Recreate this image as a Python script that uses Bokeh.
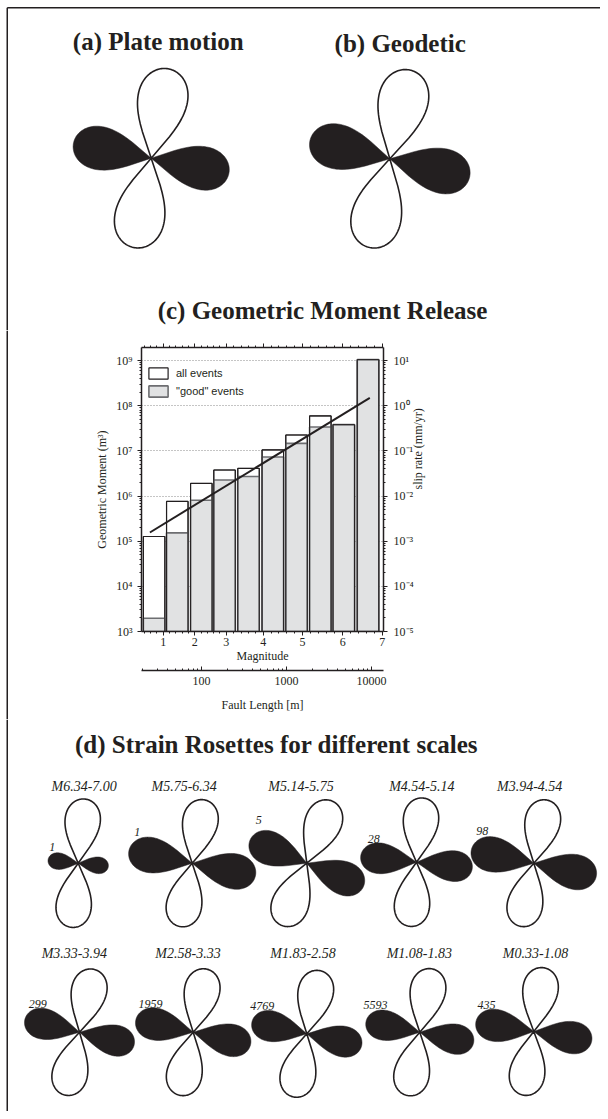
import numpy as np
from bokeh.plotting import figure
from bokeh.models import Range1d, LinearAxis, FixedTicker, Legend, LegendItem
from bokeh.layouts import column, row
from bokeh.core.properties import value
from bokeh.embed import file_html
from bokeh.resources import INLINE

# ---------------- data ----------------
panel_titles = ["(a) Plate motion", "(b) Geodetic",
                "(c) Geometric Moment Release",
                "(d) Strain Rosettes for different scales"]

# (a), (b): principal strains (normalised) and azimuth of extension axis (deg, clockwise)
top_ext = [1.0, 1.0]
top_comp = [0.87, 0.90]
top_azimuth = [11, 13]

# (c) geometric moment release per fault-length bin
bin_length_m = [27.7, 51.9, 99.5, 186.6, 357.3, 690.2, 1312, 2500, 4720, 9100]
all_events_moment = [1.27e5, 7.6e5, 1.9e6, 3.77e6, 4.09e6, 1.05e7, 2.25e7, 5.94e7, 3.81e7, 1.05e9]
good_events_moment = [1.97e3, 1.53e5, 8.1e5, 2.26e6, 2.72e6, 7.3e6, 1.47e7, 3.39e7, 3.81e7, 1.05e9]
fit_length_m = [24.7, 9550]
fit_moment = [1.56e5, 1.49e8]
magnitude_ticks = [1, 2, 3, 4, 5, 6, 7]
magnitude_tick_length_m = [35.4, 83.4, 195.4, 532.0, 1542.0, 4592.0, 13366.0]
moment_decades = [3, 4, 5, 6, 7, 8, 9]
slip_decades = [-5, -4, -3, -2, -1, 0, 1]
length_decades = [2, 3, 4]

# (d) strain rosettes per magnitude range
mag_ranges = ["M6.34-7.00", "M5.75-6.34", "M5.14-5.75", "M4.54-5.14", "M3.94-4.54",
              "M3.33-3.94", "M2.58-3.33", "M1.83-2.58", "M1.08-1.83", "M0.33-1.08"]
event_counts = [1, 1, 5, 28, 98, 299, 1959, 4769, 5593, 435]
rosette_ext = [1.0, 1.0, 1.04, 1.0, 1.0, 1.0, 1.0, 1.0, 1.0, 1.0]
rosette_comp = [0.47, 1.0, 0.95, 0.87, 0.99, 0.87, 0.91, 0.87, 0.85, 0.91]
rosette_azimuth = [6, 11, 22, 6, 12, 13, 12, 12, 11, 9]

# ---------------- layout / style ----------------
INK = "#231f20"
SERIF = "Liberation Serif"
SANS = "Liberation Sans"
W = 600
STRIP = 8
HA, HC = 330, 389
HD = 1111 - HA - HC
BX, BY = 6.75, 7.3   # page border position

top_cx = [150.7, 389.3]
top_cy = [157.7, 158.3]
top_scale = 91.0
top_title_x = [157.7, 399.7]
top_title_y = [41.0, 43.0]
c_title_xy = (322.0, 310.0)

d_title_xy = (276.0, 25.0)
ros_cx = [77.7, 191.7, 306.3, 416.0, 533.3, 79.0, 192.7, 306.3, 419.3, 533.3]
ros_cy = [143.7, 143.7, 143.7, 142.7, 143.7, 312.7, 312.7, 314.3, 312.7, 312.0]
ros_scale = 64.5
range_lx = [83.7, 183.7, 300.5, 421.3, 529.2, 73.8, 187.5, 302.5, 418.8, 535.0]
range_ly = [66.5] * 5 + [234.0] * 5
count_dx = [-26, -55, -48, -42.7, -51.6, -41.7, -42.7, -44.6, -44.3, -47.3]
count_dy = [-16, -31, -43.4, -23.4, -32.7, -28.4, -28.4, -28.3, -27.7, -26.5]


def lobe_xy(cx, cy, length, direction_deg, neck_deg=30.0, power=0.35, n=90):
    phi = np.linspace(-np.radians(neck_deg), np.radians(neck_deg), n)
    k = 90.0 / neck_deg
    r = length * np.clip(np.cos(k * phi), 0, None) ** power
    ang = np.radians(direction_deg) + phi
    return list(cx + r * np.cos(ang)), list(cy + r * np.sin(ang))


def draw_rosettes(p, cxs, cys, exts, comps, azs, scale):
    wx, wy, bx, by = [], [], [], []
    for cx, cy, e, c, a in zip(cxs, cys, exts, comps, azs):
        for d in (-90 + a, 90 + a):
            x, y = lobe_xy(cx, cy, e * scale, d)
            wx.append(x); wy.append(y)
        for d in (a, 180 + a):
            x, y = lobe_xy(cx, cy, c * scale, d)
            bx.append(x); by.append(y)
    p.patches(bx, by, fill_color=INK, line_color=INK, line_width=0.5)
    p.patches(wx, wy, fill_color="white", line_color=INK, line_width=1.6, line_join="round")


def blank_fig(w, h):
    p = figure(width=w, height=h, x_range=Range1d(0, w), y_range=Range1d(h, 0),
               output_backend="svg", toolbar_location=None,
               x_axis_type=None, y_axis_type=None, min_border=0,
               outline_line_color=None)
    return p


# ---------------- panel A (a, b, c-title) ----------------
pa = blank_fig(W, HA)
pa.segment(x0=[BX, BX], y0=[BY, BY], x1=[BX, W], y1=[HA, BY], line_color=INK, line_width=1.5)
draw_rosettes(pa, top_cx, top_cy, top_ext, top_comp, top_azimuth, top_scale)
pa.text(x=top_title_x + [c_title_xy[0]], y=top_title_y + [c_title_xy[1]],
        text=panel_titles[:3], text_font=value(SERIF), text_font_style="bold",
        text_font_size="25px", text_align="center", text_baseline="middle", text_color=INK)

# left border strip beside the histogram
strip = blank_fig(STRIP, HC)
strip.segment(x0=[BX], y0=[0], x1=[BX], y1=[HC], line_color=INK, line_width=1.5)

# ---------------- panel C (histogram) ----------------
XMIN, XMAX = 1.294, 4.141
YMIN, YMAX = 3.0, 9.29
pc = figure(width=W - STRIP, height=HC, x_range=Range1d(XMIN, XMAX), y_range=Range1d(YMIN, YMAX),
            output_backend="svg", toolbar_location=None,
            min_border_left=133, min_border_right=W - STRIP - 133 - 242,
            min_border_top=17, min_border_bottom=HC - 17 - 284,
            outline_line_color=None)
pc.extra_y_ranges = {"slip": Range1d(-5, 1.29)}

SUP = str.maketrans("-0123456789", "⁻⁰¹²³⁴⁵⁶⁷⁸⁹")


def pow_label(d):
    return "10" + str(d).translate(SUP)


def log_minor(decades, hi):
    out = []
    for d in range(min(decades) - 1, max(decades) + 1):
        for k in range(2, 10):
            v = d + np.log10(k)
            if min(decades) < v < hi:
                out.append(float(v))
    return out


logL = np.log10(bin_length_m)
half_w = 0.1265
b_left = logL - half_w
b_right = logL + half_w
all_top = np.log10(all_events_moment)
good_top = np.log10(good_events_moment)

r_all = pc.quad(left=b_left, right=b_right, bottom=YMIN, top=all_top,
                fill_color="white", line_color=INK, line_width=1.2)
r_good = pc.quad(left=b_left, right=b_right, bottom=YMIN, top=good_top,
                 fill_color="#e1e2e3", line_color="#6d6e71", line_width=1.6)
pc.quad(left=b_left, right=b_right, bottom=YMIN, top=all_top,
        fill_color=None, line_color=INK, line_width=1.0)
pc.line(np.log10(fit_length_m), np.log10(fit_moment), line_color=INK, line_width=2)


def style_axis(ax, tick_out=4, minor_out=2, tick_in=0, minor_in=0):
    ax.axis_line_color = INK
    ax.axis_line_width = 1.5
    ax.major_tick_line_color = INK
    ax.minor_tick_line_color = INK
    ax.major_tick_out = tick_out
    ax.major_tick_in = tick_in
    ax.minor_tick_out = minor_out
    ax.minor_tick_in = minor_in
    ax.major_label_text_font = SERIF
    ax.major_label_text_font_size = "12px"
    ax.major_label_text_color = INK
    ax.axis_label_text_font = SERIF
    ax.axis_label_text_font_size = "12px"
    ax.axis_label_text_font_style = "normal"
    ax.axis_label_text_color = INK


# magnitude ticks (major, minor every 0.2 magnitude unit)
mag_pos = [float(v) for v in np.log10(magnitude_tick_length_m)]
mag_minor = []
for i in range(len(mag_pos) - 1):
    step = (mag_pos[i + 1] - mag_pos[i]) / 5
    mag_minor += [mag_pos[i] + j * step for j in range(1, 5)]
step0 = (mag_pos[1] - mag_pos[0]) / 5
mag_minor += [mag_pos[0] - j * step0 for j in range(1, 5) if mag_pos[0] - j * step0 > XMIN]

xa = pc.xaxis[0]
xa.ticker = FixedTicker(ticks=mag_pos, minor_ticks=mag_minor)
xa.major_label_overrides = {t: str(m) for t, m in zip(mag_pos, magnitude_ticks)}
xa.axis_label = "Magnitude"
style_axis(xa)
xa.major_label_standoff = 2
xa.axis_label_standoff = 0

# invisible spacer between the two bottom axes
sp = LinearAxis(ticker=FixedTicker(ticks=[]), axis_line_color=None,
                major_tick_line_color=None, minor_tick_line_color=None,
                major_tick_out=0, major_tick_in=0, minor_tick_out=0,
                major_label_standoff=0, major_label_text_font_size="0px",
                axis_label=" ", axis_label_text_font_size="2px", axis_label_standoff=0)
pc.add_layout(sp, "below")

fa = LinearAxis(ticker=FixedTicker(ticks=[float(d) for d in length_decades],
                                   minor_ticks=log_minor([1, 2, 3, 4], XMAX)),
                major_label_overrides={float(d): str(int(10 ** d)) for d in length_decades},
                axis_label="Fault Length [m]")
style_axis(fa, tick_out=0, minor_out=0, tick_in=4, minor_in=2)
fa.major_label_standoff = 6
fa.axis_label_standoff = 10
pc.add_layout(fa, "below")

ta = LinearAxis(ticker=FixedTicker(ticks=mag_pos, minor_ticks=mag_minor),
                major_label_overrides={t: "" for t in mag_pos})
style_axis(ta)
ta.major_label_text_font_size = "0px"
ta.major_label_standoff = 0
pc.add_layout(ta, "above")

ya = pc.yaxis[0]
ya.ticker = FixedTicker(ticks=[float(d) for d in moment_decades],
                        minor_ticks=log_minor(moment_decades, YMAX))
ya.major_label_overrides = {float(d): pow_label(d) for d in moment_decades}
ya.axis_label = "Geometric Moment (m³)"
style_axis(ya)
ya.major_label_standoff = 5
ya.axis_label_standoff = 4

ra = LinearAxis(y_range_name="slip",
                ticker=FixedTicker(ticks=[float(d) for d in slip_decades],
                                   minor_ticks=log_minor(slip_decades, 1.29)),
                major_label_overrides={float(d): pow_label(d) for d in slip_decades},
                axis_label="slip rate (mm/yr)")
style_axis(ra)
ra.major_label_standoff = 6
ra.axis_label_standoff = 1
if "axis_label_orientation" in ra.properties():
    ra.axis_label_orientation = float(np.pi / 2)
pc.add_layout(ra, "right")

pc.xgrid.visible = False
pc.ygrid.ticker = FixedTicker(ticks=[float(d) for d in moment_decades[1:]])
pc.ygrid.grid_line_color = "#8a8a8a"
pc.ygrid.grid_line_dash = "1 2"
pc.ygrid.grid_line_width = 1

legend = Legend(items=[LegendItem(label="all events", renderers=[r_all]),
                       LegendItem(label='"good" events', renderers=[r_good])],
                location=(5, 233), padding=0, margin=0, spacing=4,
                glyph_width=24, glyph_height=14, label_height=14, label_standoff=6,
                border_line_color=None, background_fill_alpha=0,
                label_text_font=SANS, label_text_font_size="11px", label_text_color=INK)
pc.add_layout(legend)

# ---------------- panel D (rosettes by magnitude) ----------------
pd_ = blank_fig(W, HD)
pd_.segment(x0=[BX], y0=[0], x1=[BX], y1=[HD], line_color=INK, line_width=1.5)
draw_rosettes(pd_, ros_cx, ros_cy, rosette_ext, rosette_comp, rosette_azimuth, ros_scale)
pd_.text(x=[d_title_xy[0]], y=[d_title_xy[1]], text=[panel_titles[3]],
         text_font=value(SERIF), text_font_style="bold", text_font_size="25px",
         text_align="center", text_baseline="middle", text_color=INK)
pd_.text(x=range_lx, y=range_ly, text=mag_ranges, text_font=value(SERIF),
         text_font_style="italic", text_font_size="14px",
         text_align="center", text_baseline="middle", text_color=INK)
cnt_x = [cx + dx for cx, dx in zip(ros_cx, count_dx)]
cnt_y = [cy + dy for cy, dy in zip(ros_cy, count_dy)]
pd_.text(x=cnt_x, y=cnt_y, text=[str(c) for c in event_counts], text_font=value(SERIF),
         text_font_style="italic", text_font_size="12px",
         text_align="center", text_baseline="middle", text_color=INK)

for fig in (pa, strip, pc, pd_):
    if "frame_align" in fig.properties():
        fig.frame_align = False

layout = column(pa, row(strip, pc), pd_)

open("out.html", "w").write(file_html(layout, INLINE))
